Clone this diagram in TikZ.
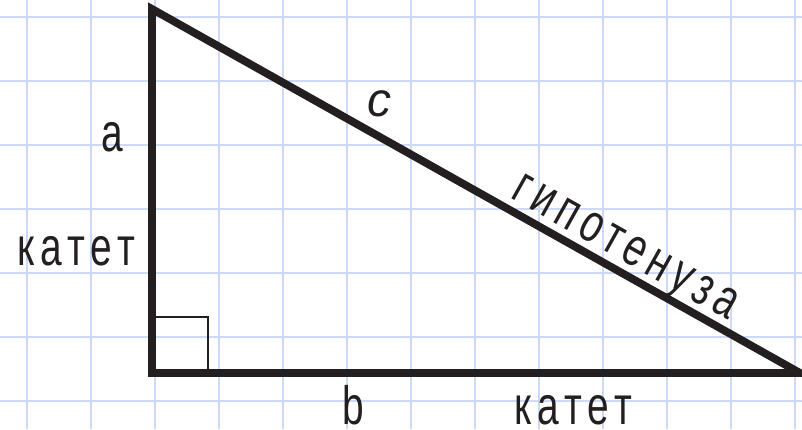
\documentclass[tikz,border=0pt]{standalone}
\usepackage{fontspec}
\newfontfamily\lab[FakeStretch=0.72,LetterSpace=11]{Liberation Sans}
\newfontfamily\labit[Scale=1]{Liberation Sans Italic}
\definecolor{gridblue}{RGB}{204,218,248}
\definecolor{ink}{RGB}{35,31,32}
\begin{document}
\begin{tikzpicture}[x=1pt,y=-1pt,
  gridline/.style={draw=gridblue,line width=2pt},
  side/.style={draw=ink,line width=7.8pt,line join=miter},
  mark90/.style={draw=ink,line width=1.5pt},
  lbl/.style={inner sep=0pt,anchor=base,text=ink,font=\lab\fontsize{54}{60}\selectfont},
  lblit/.style={inner sep=0pt,anchor=base,text=ink,font=\labit\fontsize{48}{54}\selectfont}]
\useasboundingbox (0,0) rectangle (802,429);
\begin{scope}
\clip (0,0) rectangle (802,429);
\foreach \k in {0,...,12} \draw[gridline] ({27+64*\k},0) -- ({27+64*\k},429);
\foreach \k in {0,...,6} \draw[gridline] (0,{16.5+64*\k}) -- (802,{16.5+64*\k});
\coordinate (A) at (152,9);
\coordinate (C) at (152,373);
\coordinate (B) at (800,373);
\draw[mark90] (152,317) rectangle (208,373);
\draw[side] (A) -- (C) -- (B) -- cycle;
\end{scope}
\node[lbl] (la) at (112.5,151) {а};
\node[lbl] (lkat1) at (76,265) {катет};
\node[lblit] (lc) at (379,116) {c};
\node[lbl] (lb) at (353.5,424) {b};
\node[lbl] (lkat2) at (573,424) {катет};
\node[lbl,rotate=-29.3] (lhyp) at (619,259) {гипотенуза};
\end{tikzpicture}
\end{document}
